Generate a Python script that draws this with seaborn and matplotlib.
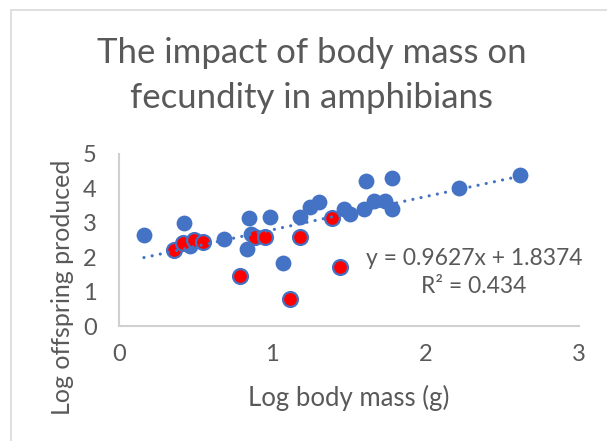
import matplotlib
matplotlib.use("Agg")
import matplotlib.pyplot as plt
import numpy as np
import seaborn as sns
from matplotlib.patches import Rectangle

# ==========================================================
# Data
# ==========================================================

blue_x = [0.163, 0.423, 0.463, 0.685, 0.833, 0.847, 0.861, 0.984, 1.070,
          1.183, 1.244, 1.305, 1.464, 1.504, 1.600, 1.613, 1.666, 1.734,
          1.780, 1.780, 2.219, 2.613]
blue_y = [2.66, 3.01, 2.33, 2.54, 2.24, 3.14, 2.68, 3.17, 1.83,
          3.17, 3.47, 3.61, 3.41, 3.25, 3.40, 4.20, 3.63, 3.64,
          3.41, 4.30, 4.01, 4.40]

red_x = [0.360, 0.416, 0.487, 0.550, 0.789, 0.887, 0.954, 1.179, 1.118,
         1.388, 1.439]
red_y = [2.20, 2.41, 2.49, 2.44, 1.46, 2.60, 2.60, 2.60, 0.78,
         3.14, 1.73]

slope = 0.9627
intercept = 1.8374
r_squared = 0.434

title = "The impact of body mass on\nfecundity in amphibians"
x_label = "Log body mass (g)"
y_label = "Log offspring produced"

# ==========================================================
# Style
# ==========================================================

sns.set_style("white")
plt.rcParams["font.family"] = ["Lato", "DejaVu Sans"]

BLUE = "#4472C4"
RED = "#FF0000"
GREY_TXT = "#595959"
AXIS_GREY = "#D0D0D0"

fig = plt.figure(figsize=(6.07, 4.41), dpi=100)
ax = fig.add_axes([0.196, 0.260, 0.758, 0.391])

# chart-area border (Excel style)
fig.patches.append(Rectangle((11 / 607, -0.05), 1.2, 1 - 10 / 441 + 0.05,
                             transform=fig.transFigure, fill=False,
                             edgecolor="#D9D9D9", linewidth=1.2))

sns.scatterplot(x=blue_x, y=blue_y, ax=ax, color=BLUE, s=130,
                edgecolor=BLUE, linewidth=0, zorder=2)
sns.scatterplot(x=red_x, y=red_y, ax=ax, color=RED, s=115,
                edgecolor=BLUE, linewidth=1.6, zorder=3)

# trendline
all_x = blue_x + red_x
xs = np.array([min(all_x), max(all_x)])
ax.plot(xs, slope * xs + intercept, color=BLUE, linewidth=2.3,
        linestyle=(0, (0.01, 2.6)), dash_capstyle="round", zorder=4)

ax.text(2.316, 1.57, f"y = {slope:.4f}x + {intercept:.4f}\nR² = {r_squared}",
        ha="center", va="center", fontsize=16.5, color=GREY_TXT,
        linespacing=1.4, zorder=5)

ax.set_xlim(0, 3)
ax.set_ylim(0, 5)
ax.set_xticks([0, 1, 2, 3])
ax.set_yticks([0, 1, 2, 3, 4, 5])

sns.despine(ax=ax)
for side in ["left", "bottom"]:
    ax.spines[side].set_color(AXIS_GREY)
    ax.spines[side].set_linewidth(1.5)

ax.tick_params(axis="both", length=0, labelsize=17, labelcolor=GREY_TXT)
ax.tick_params(axis="x", pad=13)
ax.tick_params(axis="y", pad=16)

ax.set_xlabel(x_label, fontsize=18.5, color=GREY_TXT, va="center")
ax.set_ylabel(y_label, fontsize=18, color=GREY_TXT, va="center")
ax.xaxis.set_label_coords(0.5, -0.414)
ax.yaxis.set_label_coords(-0.122, 0.226)

fig.text(0.514, 0.828, title, ha="center", va="center", fontsize=25,
         color=GREY_TXT, linespacing=1.5)

fig.savefig("out.png", dpi=100)
